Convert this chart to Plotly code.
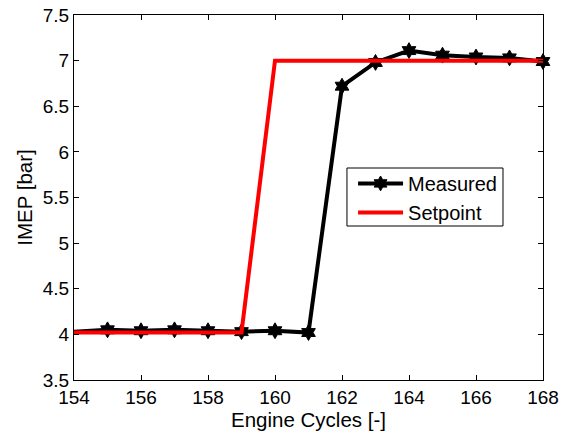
import plotly.graph_objects as go

cycles = [154, 155, 156, 157, 158, 159, 160, 161, 162, 163, 164, 165, 166, 167, 168]
measured = [4.03, 4.05, 4.04, 4.05, 4.04, 4.03, 4.04, 4.02, 6.72, 6.98, 7.11, 7.06, 7.04, 7.03, 6.99]
setpoint = [4.02, 4.02, 4.02, 4.02, 4.02, 4.02, 7.0, 7.0, 7.0, 7.0, 7.0, 7.0, 7.0, 7.0, 7.0]
xticks = [154, 156, 158, 160, 162, 164, 166, 168]
yticks = [3.5, 4, 4.5, 5, 5.5, 6, 6.5, 7, 7.5]

# first sample sits on the left axis edge, where the reference shows no marker
marker_sizes = [0] + [12] * (len(cycles) - 1)

fig = go.Figure()
fig.add_trace(go.Scatter(x=cycles, y=measured, name="Measured", mode="lines+markers",
                         line=dict(color="black", width=4),
                         marker=dict(symbol="hexagram", size=marker_sizes, color="black",
                                     opacity=1, line=dict(color="black", width=1)),
                         cliponaxis=False))
fig.add_trace(go.Scatter(x=cycles, y=setpoint, name="Setpoint", mode="lines",
                         line=dict(color="#ff0000", width=4)))

axis_common = dict(showline=True, linecolor="black", linewidth=1, mirror="ticks",
                   ticks="inside", ticklen=5, tickcolor="black", showgrid=False,
                   zeroline=False, ticklabeloverflow="allow", automargin=False,
                   tickfont=dict(size=19, color="black"))
fig.update_xaxes(range=[154, 168], tickvals=xticks, ticktext=[str(v) for v in xticks],
                 title=dict(text="Engine Cycles [-]", font=dict(size=20.5, color="black"), standoff=2),
                 **axis_common)
fig.update_yaxes(range=[3.5, 7.5], tickvals=yticks, ticktext=[f"{v:g}" for v in yticks],
                 title=dict(text="IMEP [bar]", font=dict(size=20.5, color="black"), standoff=4),
                 **axis_common)

# legend frame
fig.add_shape(type="rect", xref="paper", yref="paper",
              x0=0.582, x1=0.9147, y0=0.4219, y1=0.5808,
              line=dict(color="black", width=1), fillcolor="rgba(0,0,0,0)", layer="above")

fig.update_layout(
    width=561, height=432,
    margin=dict(l=74, r=18, t=15, b=52),
    paper_bgcolor="white", plot_bgcolor="white",
    font=dict(family="Liberation Sans, Arial, sans-serif", size=19, color="black"),
    legend=dict(x=0.595, y=0.592, xanchor="left", yanchor="top",
                bgcolor="rgba(0,0,0,0)", borderwidth=0,
                font=dict(size=20), tracegroupgap=0, itemwidth=45),
    showlegend=True,
)

fig.write_html("out.html", config={"displayModeBar": False},
               post_script="document.body.style.margin='0';")
